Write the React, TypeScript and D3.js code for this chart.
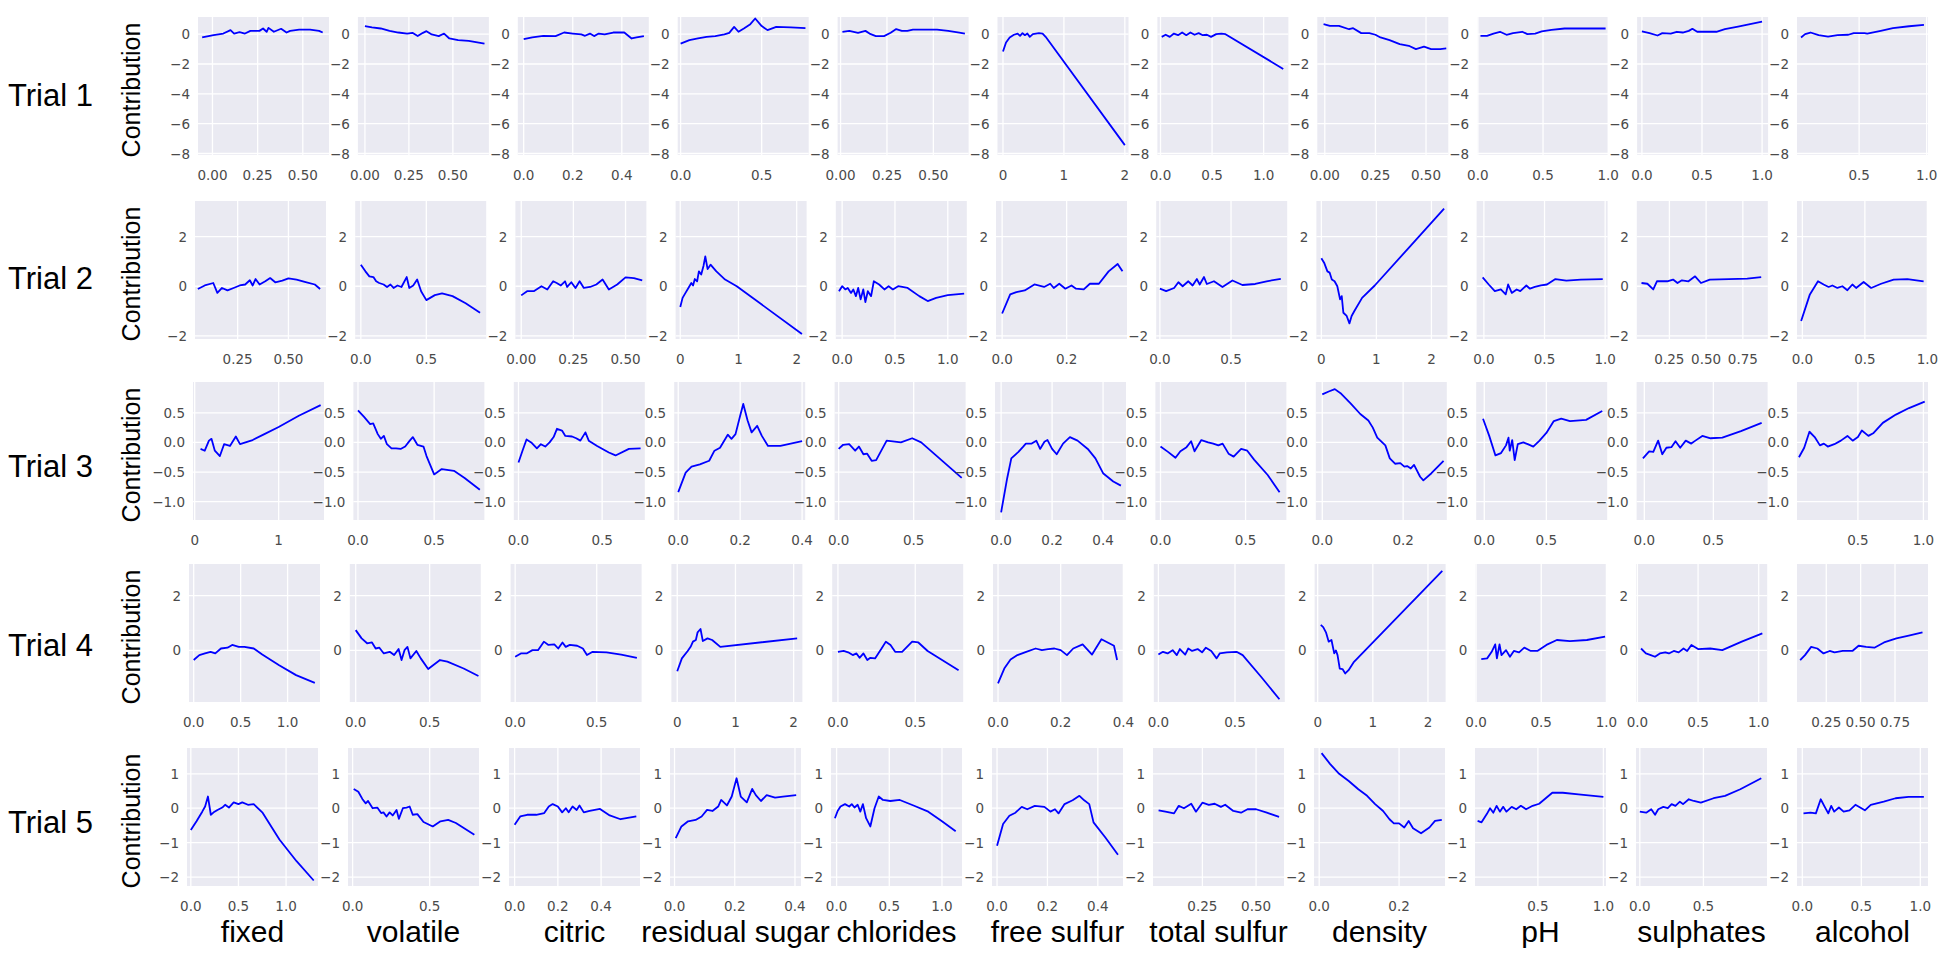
import * as d3 from 'd3'

type Pt = [number, number]

const FEATURES = ['fixed', 'volatile', 'citric', 'residual sugar', 'chlorides', 'free sulfur',
  'total sulfur', 'density', 'pH', 'sulphates', 'alcohol']
const TRIALS = ['Trial 1', 'Trial 2', 'Trial 3', 'Trial 4', 'Trial 5']

// y extents and ticks, shared along each trial row
const yDomains: [number, number][] = [[-8.1, 1.15], [-2.13, 3.44], [-1.31, 1.02], [-1.88, 3.15], [-2.26, 1.75]]
const yTicks: number[][] = [[0, -2, -4, -6, -8], [-2, 0, 2], [-1, -0.5, 0, 0.5], [0, 2], [-2, -1, 0, 1]]

// ---- Trial 1 ----
const trial1XDomain: [number, number][] = [[-0.08, 0.645], [-0.04, 0.705], [-0.024, 0.51], [-0.018, 0.79], [-0.016, 0.69],
  [-0.09, 2.06], [-0.03, 1.24], [-0.037, 0.61], [-0.005, 1.0], [-0.04, 1.05], [0.04, 1.01]]
const trial1XTicks: number[][] = [[0, 0.25, 0.5], [0, 0.25, 0.5], [0, 0.2, 0.4], [0, 0.5], [0, 0.25, 0.5],
  [0, 1, 2], [0, 0.5, 1], [0, 0.25, 0.5], [0, 0.5, 1], [0, 0.5, 1], [0.5, 1]]
const trial1: Pt[][] = [
  [[-0.057, -0.22], [0.006, -0.07], [0.06, 0.04], [0.1, 0.27], [0.12, 0.04], [0.15, 0.13], [0.18, 0.04], [0.21, 0.22], [0.26, 0.22], [0.28, 0.38], [0.3, 0.16], [0.31, 0.42], [0.34, 0.16], [0.38, 0.36], [0.41, 0.11], [0.43, 0.22], [0.48, 0.31], [0.54, 0.31], [0.59, 0.22], [0.61, 0.11]],
  [[0, 0.54], [0.04, 0.45], [0.09, 0.38], [0.14, 0.22], [0.19, 0.11], [0.24, 0.04], [0.27, 0.09], [0.3, -0.13], [0.33, 0.09], [0.35, 0.2], [0.38, -0.02], [0.42, -0.13], [0.45, 0.04], [0.48, -0.29], [0.53, -0.4], [0.59, -0.45], [0.68, -0.63]],
  [[0, -0.34], [0.035, -0.22], [0.08, -0.11], [0.13, -0.13], [0.165, 0.11], [0.2, 0.04], [0.235, -0.02], [0.25, -0.11], [0.27, 0.04], [0.287, -0.13], [0.306, 0.04], [0.33, -0.02], [0.365, 0.11], [0.41, 0.11], [0.44, -0.29], [0.46, -0.22], [0.49, -0.13]],
  [[0, -0.63], [0.054, -0.4], [0.107, -0.29], [0.16, -0.18], [0.214, -0.13], [0.27, -0.02], [0.3, 0.09], [0.33, 0.49], [0.357, 0.16], [0.39, 0.38], [0.43, 0.67], [0.46, 1.05], [0.5, 0.54], [0.536, 0.27], [0.59, 0.49], [0.68, 0.45], [0.77, 0.4]],
  [[0.01, 0.16], [0.047, 0.22], [0.094, 0.09], [0.134, 0.22], [0.156, 0.04], [0.19, -0.13], [0.234, -0.13], [0.27, 0.09], [0.3, 0.34], [0.33, 0.22], [0.36, 0.22], [0.39, 0.31], [0.45, 0.31], [0.52, 0.31], [0.58, 0.22], [0.64, 0.11], [0.67, 0.04]],
  [[0, -1.16], [0.05, -0.56], [0.11, -0.22], [0.18, -0.04], [0.24, 0.04], [0.28, -0.11], [0.32, 0.07], [0.36, -0.07], [0.4, 0.04], [0.44, -0.18], [0.49, 0], [0.54, 0.04], [0.59, 0.07], [0.65, 0.04], [0.7, -0.18], [2.0, -7.44]],
  [[0.012, -0.18], [0.05, -0.04], [0.09, -0.18], [0.13, 0.04], [0.17, -0.07], [0.21, 0.11], [0.25, -0.07], [0.29, 0.11], [0.33, -0.04], [0.37, 0.07], [0.41, -0.07], [0.45, -0.04], [0.49, -0.18], [0.54, 0], [0.59, 0.04], [0.63, 0], [1.19, -2.33]],
  [[-0.006, 0.67], [0.025, 0.56], [0.07, 0.56], [0.12, 0.33], [0.14, 0.4], [0.18, 0.07], [0.22, 0.07], [0.25, -0.04], [0.275, -0.22], [0.32, -0.4], [0.37, -0.67], [0.415, -0.78], [0.45, -1.0], [0.49, -0.84], [0.525, -1.0], [0.57, -1.0], [0.6, -0.96]],
  [[0.02, -0.11], [0.07, -0.11], [0.12, 0.04], [0.17, 0.16], [0.22, -0.04], [0.27, 0.07], [0.34, 0.16], [0.38, 0], [0.44, 0.04], [0.49, 0.18], [0.565, 0.29], [0.665, 0.38], [0.83, 0.38], [0.98, 0.38]],
  [[0, 0.18], [0.063, 0.07], [0.13, -0.09], [0.17, 0.07], [0.24, 0.04], [0.29, 0.16], [0.34, 0.11], [0.39, 0.22], [0.42, 0.36], [0.46, 0.16], [0.54, 0.16], [0.62, 0.16], [0.69, 0.33], [0.8, 0.51], [0.9, 0.67], [1.0, 0.84]],
  [[0.07, -0.22], [0.1, 0], [0.14, 0.11], [0.2, -0.07], [0.27, -0.16], [0.34, -0.07], [0.42, -0.04], [0.46, 0.07], [0.54, 0.07], [0.56, 0.04], [0.66, 0.22], [0.75, 0.4], [0.87, 0.53], [0.98, 0.62]],
]

// ---- Trial 2 ----
const trial2XDomain: [number, number][] = [[0.04, 0.685], [-0.043, 0.957], [-0.028, 0.6], [-0.08, 2.17], [-0.06, 1.18],
  [-0.019, 0.387], [-0.026, 0.895], [-0.09, 2.29], [-0.06, 1.02], [0.028, 0.92], [-0.043, 1.005]]
const trial2XTicks: number[][] = [[0.25, 0.5], [0, 0.5], [0, 0.25, 0.5], [0, 1, 2], [0, 0.5, 1],
  [0, 0.2], [0, 0.5], [0, 1, 2], [0, 0.5, 1], [0.25, 0.5, 0.75], [0, 0.5, 1]]
const trial2: Pt[][] = [
  [[0.054, -0.11], [0.088, 0.03], [0.13, 0.13], [0.15, -0.27], [0.173, -0.07], [0.2, -0.17], [0.23, -0.07], [0.26, 0.03], [0.287, 0.07], [0.31, 0.24], [0.324, 0.03], [0.338, 0.29], [0.358, 0.07], [0.386, 0.2], [0.41, 0.33], [0.435, 0.16], [0.47, 0.23], [0.5, 0.32], [0.54, 0.27], [0.585, 0.17], [0.63, 0.07], [0.656, -0.11]],
  [[0, 0.87], [0.035, 0.6], [0.065, 0.4], [0.096, 0.37], [0.117, 0.2], [0.14, 0.13], [0.174, 0.07], [0.2, -0.03], [0.226, 0.07], [0.25, -0.07], [0.28, 0.03], [0.31, -0.03], [0.35, 0.37], [0.37, -0.07], [0.4, 0.03], [0.43, 0.27], [0.46, -0.2], [0.5, -0.56], [0.565, -0.36], [0.62, -0.29], [0.7, -0.4], [0.8, -0.69], [0.91, -1.07]],
  [[0, -0.37], [0.028, -0.2], [0.06, -0.2], [0.097, 0], [0.125, -0.13], [0.153, 0.2], [0.17, 0.13], [0.19, 0.03], [0.21, 0.2], [0.22, -0.03], [0.24, 0.16], [0.26, -0.07], [0.28, 0.2], [0.3, -0.07], [0.33, -0.03], [0.36, 0.07], [0.39, 0.27], [0.42, -0.13], [0.46, 0.07], [0.5, 0.36], [0.54, 0.33], [0.58, 0.24]],
  [[0, -0.84], [0.04, -0.47], [0.09, -0.27], [0.14, -0.07], [0.19, 0.13], [0.22, 0.03], [0.25, 0.29], [0.29, 0.2], [0.32, 0.6], [0.36, 0.47], [0.4, 0.83], [0.43, 1.2], [0.47, 0.69], [0.52, 0.87], [0.62, 0.6], [0.77, 0.27], [0.97, 0], [2.09, -1.93]],
  [[-0.03, -0.2], [0, 0], [0.03, -0.13], [0.053, -0.07], [0.084, -0.27], [0.106, -0.13], [0.13, -0.4], [0.152, -0.07], [0.175, -0.53], [0.2, -0.13], [0.22, -0.64], [0.243, -0.2], [0.274, -0.4], [0.3, 0.2], [0.35, 0.07], [0.4, -0.13], [0.44, 0], [0.48, -0.13], [0.53, 0], [0.62, -0.07], [0.73, -0.4], [0.81, -0.6], [0.89, -0.47], [1.0, -0.36], [1.155, -0.3]],
  [[0, -1.1], [0.025, -0.33], [0.044, -0.24], [0.07, -0.17], [0.1, 0.07], [0.13, -0.03], [0.149, 0.1], [0.16, -0.07], [0.177, 0.1], [0.196, -0.1], [0.215, 0.03], [0.229, -0.1], [0.253, -0.13], [0.272, 0.1], [0.3, 0.1], [0.33, 0.6], [0.358, 0.9], [0.373, 0.6]],
  [[0, -0.1], [0.044, -0.2], [0.1, -0.07], [0.13, 0.16], [0.16, 0], [0.2, 0.2], [0.23, 0.03], [0.26, 0.29], [0.28, 0.07], [0.31, 0.37], [0.33, 0.09], [0.38, 0.2], [0.44, -0.03], [0.51, 0.23], [0.58, 0.05], [0.67, 0.09], [0.75, 0.2], [0.85, 0.3]],
  [[0, 1.13], [0.05, 0.95], [0.11, 0.6], [0.15, 0.55], [0.19, 0.27], [0.24, 0.2], [0.29, 0], [0.34, -0.53], [0.37, -0.4], [0.4, -1.07], [0.46, -1.2], [0.51, -1.5], [0.55, -1.2], [0.6, -1.0], [0.74, -0.47], [0.97, 0.03], [1.6, 1.58], [2.23, 3.13]],
  [[-0.01, 0.36], [0.04, 0.07], [0.09, -0.2], [0.14, -0.13], [0.18, -0.33], [0.2, 0.07], [0.23, -0.27], [0.27, -0.13], [0.3, -0.2], [0.35, 0.03], [0.38, -0.1], [0.42, -0.03], [0.47, 0.03], [0.52, 0.07], [0.59, 0.29], [0.68, 0.23], [0.8, 0.27], [0.98, 0.29]],
  [[0.06, 0.13], [0.1, 0.1], [0.14, -0.13], [0.165, 0.2], [0.235, 0.2], [0.275, 0.27], [0.305, 0.13], [0.335, 0.24], [0.38, 0.2], [0.425, 0.4], [0.465, 0.13], [0.525, 0.27], [0.655, 0.29], [0.78, 0.31], [0.875, 0.37]],
  [[-0.01, -1.4], [0.06, -0.33], [0.125, 0.2], [0.17, 0.07], [0.21, -0.03], [0.24, 0.03], [0.28, -0.07], [0.32, 0], [0.36, -0.16], [0.4, 0.07], [0.43, -0.07], [0.49, 0.17], [0.55, -0.07], [0.63, 0.1], [0.73, 0.27], [0.84, 0.29], [0.97, 0.2]],
]

// ---- Trial 3 ----
const trial3XDomain: [number, number][] = [[-0.02, 1.54], [-0.03, 0.83], [-0.028, 0.755], [-0.013, 0.41], [-0.027, 0.846],
  [-0.024, 0.49], [-0.03, 0.74], [-0.016, 0.308], [-0.065, 0.99], [-0.056, 0.893], [0.035, 1.035]]
const trial3XTicks: number[][] = [[0, 1], [0, 0.5], [0, 0.5], [0, 0.2, 0.4], [0, 0.5],
  [0, 0.2, 0.4], [0, 0.5], [0, 0.2], [0, 0.5], [0, 0.5], [0.5, 1]]
const trial3: Pt[][] = [
  [[0.07, -0.11], [0.12, -0.14], [0.17, 0.03], [0.2, 0.06], [0.24, -0.14], [0.3, -0.23], [0.35, -0.03], [0.42, -0.06], [0.49, 0.1], [0.54, -0.03], [0.69, 0.04], [0.83, 0.14], [1.0, 0.26], [1.24, 0.45], [1.5, 0.63]],
  [[0, 0.54], [0.04, 0.43], [0.08, 0.31], [0.1, 0.32], [0.13, 0.14], [0.15, 0.06], [0.17, 0.11], [0.19, -0.03], [0.22, -0.1], [0.25, -0.1], [0.28, -0.11], [0.31, -0.07], [0.34, 0.03], [0.36, 0.09], [0.39, -0.04], [0.43, -0.07], [0.45, -0.23], [0.5, -0.54], [0.55, -0.45], [0.63, -0.48], [0.7, -0.6], [0.8, -0.8]],
  [[0, -0.34], [0.024, -0.14], [0.048, 0.05], [0.076, 0], [0.11, -0.1], [0.134, -0.03], [0.16, -0.07], [0.186, 0], [0.21, 0.09], [0.23, 0.23], [0.26, 0.2], [0.28, 0.11], [0.32, 0.1], [0.345, 0.07], [0.37, 0.03], [0.4, 0.17], [0.42, 0.03], [0.47, -0.06], [0.54, -0.17], [0.58, -0.22], [0.66, -0.11], [0.73, -0.1]],
  [[0, -0.84], [0.024, -0.51], [0.043, -0.41], [0.07, -0.37], [0.1, -0.31], [0.117, -0.14], [0.135, -0.09], [0.16, 0.13], [0.172, 0.06], [0.185, 0.14], [0.2, 0.45], [0.21, 0.65], [0.224, 0.37], [0.237, 0.17], [0.255, 0.28], [0.27, 0.11], [0.29, -0.06], [0.33, -0.06], [0.4, 0.02]],
  [[0, -0.11], [0.03, -0.04], [0.07, -0.03], [0.11, -0.14], [0.135, -0.07], [0.165, -0.2], [0.19, -0.19], [0.22, -0.31], [0.25, -0.3], [0.32, 0.03], [0.415, 0], [0.49, 0.07], [0.55, 0], [0.82, -0.6]],
  [[0, -1.18], [0.024, -0.6], [0.04, -0.27], [0.068, -0.16], [0.085, -0.08], [0.097, -0.02], [0.12, -0.02], [0.138, 0.03], [0.153, -0.11], [0.17, 0.01], [0.182, 0.04], [0.2, -0.11], [0.218, -0.2], [0.243, -0.02], [0.27, 0.09], [0.3, 0.03], [0.34, -0.11], [0.37, -0.27], [0.4, -0.52], [0.44, -0.66], [0.47, -0.73]],
  [[0, -0.07], [0.044, -0.16], [0.088, -0.26], [0.117, -0.15], [0.153, -0.08], [0.18, 0.02], [0.2, -0.15], [0.24, 0.04], [0.28, 0], [0.31, -0.02], [0.34, -0.05], [0.365, -0.02], [0.4, -0.19], [0.43, -0.24], [0.474, -0.11], [0.51, -0.14], [0.55, -0.29], [0.63, -0.55], [0.7, -0.84]],
  [[0, 0.81], [0.016, 0.86], [0.031, 0.9], [0.047, 0.82], [0.07, 0.66], [0.094, 0.48], [0.114, 0.37], [0.125, 0.25], [0.136, 0.08], [0.156, -0.05], [0.167, -0.27], [0.18, -0.36], [0.193, -0.35], [0.203, -0.41], [0.21, -0.4], [0.219, -0.44], [0.227, -0.38], [0.242, -0.58], [0.25, -0.64], [0.27, -0.52], [0.3, -0.31]],
  [[-0.01, 0.4], [0.04, 0.11], [0.09, -0.22], [0.135, -0.18], [0.175, -0.05], [0.195, 0.08], [0.205, -0.14], [0.225, 0.04], [0.245, -0.3], [0.27, -0.03], [0.315, 0], [0.35, -0.03], [0.395, -0.07], [0.445, 0.03], [0.5, 0.16], [0.56, 0.36], [0.62, 0.4], [0.69, 0.36], [0.82, 0.38], [0.95, 0.53]],
  [[-0.01, -0.27], [0.035, -0.15], [0.065, -0.16], [0.1, 0.03], [0.13, -0.2], [0.16, -0.09], [0.196, -0.08], [0.226, 0.02], [0.26, -0.09], [0.3, 0.03], [0.34, -0.02], [0.37, 0.03], [0.42, 0.11], [0.48, 0.07], [0.565, 0.08], [0.7, 0.19], [0.85, 0.33]],
  [[0.05, -0.25], [0.09, -0.09], [0.13, 0.18], [0.17, 0.09], [0.21, -0.05], [0.24, -0.02], [0.27, -0.07], [0.32, -0.03], [0.37, 0.03], [0.42, 0.11], [0.46, 0.03], [0.5, 0.09], [0.53, 0.2], [0.58, 0.11], [0.62, 0.16], [0.69, 0.33], [0.79, 0.47], [0.89, 0.58], [1.01, 0.69]],
]

// ---- Trial 4 ----
const trial4XDomain: [number, number][] = [[-0.05, 1.345], [-0.04, 0.846], [-0.028, 0.775], [-0.1, 2.15], [-0.037, 0.81],
  [-0.016, 0.402], [-0.03, 0.825], [-0.056, 2.32], [-0.005, 1.0], [-0.01, 1.07], [0.037, 0.99]]
const trial4XTicks: number[][] = [[0, 0.5, 1], [0, 0.5], [0, 0.5], [0, 1, 2], [0, 0.5],
  [0, 0.2, 0.4], [0, 0.5], [0, 1, 2], [0, 0.5, 1], [0, 0.5, 1], [0.25, 0.5, 0.75]]
const trial4: Pt[][] = [
  [[0, -0.35], [0.06, -0.17], [0.12, -0.11], [0.18, -0.05], [0.23, -0.11], [0.29, 0.07], [0.36, 0.1], [0.41, 0.2], [0.48, 0.13], [0.54, 0.13], [0.64, 0.07], [0.73, -0.15], [0.91, -0.54], [1.09, -0.9], [1.29, -1.18]],
  [[0, 0.74], [0.04, 0.44], [0.077, 0.26], [0.11, 0.29], [0.135, 0.07], [0.16, 0.1], [0.19, -0.11], [0.23, -0.05], [0.26, -0.17], [0.29, 0.05], [0.31, -0.35], [0.33, 0.01], [0.35, 0.13], [0.37, -0.29], [0.41, -0.02], [0.44, -0.29], [0.49, -0.68], [0.57, -0.35], [0.62, -0.41], [0.73, -0.66], [0.83, -0.93]],
  [[0, -0.23], [0.035, -0.11], [0.07, -0.11], [0.106, 0.01], [0.14, 0.01], [0.176, 0.32], [0.204, 0.2], [0.24, 0.22], [0.264, 0.07], [0.29, 0.29], [0.31, 0.13], [0.335, 0.2], [0.38, 0.17], [0.415, 0.07], [0.44, -0.17], [0.475, -0.05], [0.56, -0.07], [0.65, -0.15], [0.746, -0.27]],
  [[0, -0.76], [0.08, -0.29], [0.18, -0.02], [0.23, 0.13], [0.27, 0.32], [0.32, 0.38], [0.35, 0.66], [0.4, 0.78], [0.44, 0.34], [0.52, 0.44], [0.6, 0.38], [0.74, 0.13], [2.06, 0.44]],
  [[0, -0.05], [0.037, -0.02], [0.066, -0.07], [0.096, -0.17], [0.12, -0.11], [0.14, -0.27], [0.165, -0.11], [0.19, -0.35], [0.21, -0.27], [0.24, -0.29], [0.28, 0.05], [0.31, 0.32], [0.34, 0.2], [0.37, -0.05], [0.415, -0.05], [0.48, 0.32], [0.52, 0.29], [0.58, -0.02], [0.78, -0.72]],
  [[0, -1.2], [0.02, -0.66], [0.04, -0.33], [0.062, -0.17], [0.09, -0.05], [0.12, 0.07], [0.14, 0.01], [0.16, 0.05], [0.18, 0.07], [0.2, 0.01], [0.22, -0.17], [0.24, 0.07], [0.27, 0.22], [0.3, -0.15], [0.33, 0.41], [0.37, 0.17], [0.38, -0.35]],
  [[0, -0.15], [0.03, -0.05], [0.06, -0.11], [0.093, 0.01], [0.12, -0.17], [0.14, 0.05], [0.175, -0.15], [0.195, 0.07], [0.22, -0.02], [0.256, 0.05], [0.285, -0.07], [0.31, 0.1], [0.345, -0.02], [0.38, -0.29], [0.4, -0.11], [0.447, -0.07], [0.51, -0.05], [0.55, -0.17], [0.67, -0.96], [0.79, -1.78]],
  [[0.056, 0.93], [0.1, 0.85], [0.15, 0.66], [0.2, 0.32], [0.25, 0.38], [0.3, -0.11], [0.33, 0], [0.36, -0.17], [0.4, -0.66], [0.45, -0.68], [0.5, -0.84], [0.56, -0.72], [0.65, -0.44], [2.26, 2.9]],
  [[0.04, -0.32], [0.085, -0.29], [0.12, -0.05], [0.147, 0.22], [0.16, -0.29], [0.18, 0.22], [0.195, -0.17], [0.23, 0.01], [0.26, -0.23], [0.29, -0.02], [0.33, -0.07], [0.37, 0.1], [0.42, -0.02], [0.47, -0.02], [0.54, 0.2], [0.62, 0.38], [0.72, 0.34], [0.85, 0.38], [0.99, 0.5]],
  [[0.03, 0.07], [0.07, -0.11], [0.11, -0.17], [0.145, -0.23], [0.185, -0.11], [0.23, -0.07], [0.26, -0.11], [0.3, -0.02], [0.34, -0.07], [0.38, 0.07], [0.41, -0.02], [0.445, 0.2], [0.5, 0.05], [0.6, 0.07], [0.7, 0.01], [0.86, 0.32], [1.03, 0.62]],
  [[0.06, -0.35], [0.095, -0.17], [0.14, 0.13], [0.185, 0.07], [0.23, -0.11], [0.275, -0.02], [0.31, -0.07], [0.37, -0.02], [0.44, -0.02], [0.485, 0.17], [0.54, 0.13], [0.6, 0.1], [0.67, 0.29], [0.76, 0.44], [0.85, 0.54], [0.95, 0.66]],
]

// ---- Trial 5 ----
const trial5XDomain: [number, number][] = [[-0.04, 1.335], [-0.03, 0.82], [-0.026, 0.58], [-0.015, 0.42], [-0.053, 1.19],
  [-0.02, 0.5], [0.02, 0.63], [-0.013, 0.315], [0.02, 1.02], [-0.03, 1.0], [-0.045, 1.065]]
const trial5XTicks: number[][] = [[0, 0.5, 1], [0, 0.5], [0, 0.2, 0.4], [0, 0.2, 0.4], [0, 0.5, 1],
  [0, 0.2, 0.4], [0.25, 0.5], [0, 0.2], [0.5, 1], [0, 0.5], [0, 0.5, 1]]
const trial5: Pt[][] = [
  [[0, -0.63], [0.06, -0.38], [0.12, -0.1], [0.15, 0.05], [0.18, 0.34], [0.21, -0.19], [0.24, -0.12], [0.28, -0.05], [0.33, 0.02], [0.36, 0.1], [0.4, 0.02], [0.45, 0.17], [0.5, 0.12], [0.54, 0.17], [0.6, 0.1], [0.66, 0.12], [0.75, -0.12], [0.93, -0.91], [1.11, -1.54], [1.29, -2.1]],
  [[0.007, 0.56], [0.037, 0.48], [0.063, 0.27], [0.085, 0.14], [0.1, 0.21], [0.13, 0], [0.16, 0.02], [0.185, -0.14], [0.2, -0.12], [0.22, -0.24], [0.24, -0.12], [0.26, -0.21], [0.285, -0.05], [0.3, -0.31], [0.326, 0], [0.35, 0.02], [0.37, 0.05], [0.39, -0.19], [0.42, -0.17], [0.46, -0.4], [0.52, -0.53], [0.57, -0.38], [0.62, -0.34], [0.67, -0.43], [0.79, -0.77]],
  [[0, -0.48], [0.026, -0.24], [0.058, -0.19], [0.1, -0.19], [0.137, -0.14], [0.158, 0.05], [0.176, 0.12], [0.2, 0.05], [0.22, -0.12], [0.237, 0], [0.25, -0.12], [0.268, 0.05], [0.287, -0.05], [0.3, 0.08], [0.32, -0.12], [0.347, -0.08], [0.395, -0.02], [0.44, -0.21], [0.49, -0.32], [0.563, -0.24]],
  [[0.004, -0.87], [0.023, -0.53], [0.045, -0.38], [0.07, -0.34], [0.09, -0.24], [0.108, -0.05], [0.126, -0.08], [0.145, 0.05], [0.155, 0.24], [0.174, 0.08], [0.19, 0.34], [0.206, 0.87], [0.22, 0.34], [0.24, 0.17], [0.258, 0.56], [0.27, 0.38], [0.287, 0.21], [0.306, 0.38], [0.334, 0.31], [0.36, 0.34], [0.404, 0.38]],
  [[-0.016, -0.29], [0.01, -0.08], [0.037, 0.05], [0.08, 0.12], [0.12, 0.05], [0.144, 0.12], [0.17, 0.02], [0.2, 0.1], [0.225, -0.1], [0.25, 0.12], [0.28, -0.29], [0.32, -0.53], [0.36, 0], [0.4, 0.34], [0.44, 0.24], [0.51, 0.21], [0.6, 0.24], [0.73, 0.08], [0.87, -0.1], [1.0, -0.38], [1.13, -0.67]],
  [[0, -1.09], [0.024, -0.46], [0.049, -0.22], [0.073, -0.13], [0.098, 0.04], [0.12, -0.03], [0.15, 0.07], [0.188, 0.04], [0.212, -0.1], [0.23, -0.03], [0.244, -0.15], [0.268, 0.12], [0.3, 0.23], [0.327, 0.36], [0.346, 0.23], [0.366, 0.12], [0.383, -0.41], [0.43, -0.85], [0.48, -1.35]],
  [[0.046, -0.06], [0.078, -0.1], [0.118, -0.15], [0.14, 0.07], [0.164, 0], [0.198, 0.13], [0.22, -0.1], [0.25, 0.16], [0.28, 0.1], [0.307, 0.13], [0.336, 0.04], [0.356, 0.1], [0.394, -0.08], [0.43, -0.13], [0.46, -0.03], [0.5, -0.03], [0.55, -0.13], [0.607, -0.25]],
  [[0.006, 1.6], [0.027, 1.29], [0.05, 1.0], [0.074, 0.79], [0.098, 0.55], [0.12, 0.36], [0.14, 0.12], [0.16, -0.08], [0.176, -0.32], [0.187, -0.44], [0.2, -0.44], [0.213, -0.56], [0.224, -0.37], [0.235, -0.58], [0.255, -0.73], [0.276, -0.56], [0.29, -0.37], [0.307, -0.34]],
  [[0.04, -0.37], [0.07, -0.41], [0.11, -0.17], [0.135, 0], [0.16, -0.13], [0.185, 0.07], [0.21, -0.1], [0.235, 0.04], [0.26, -0.1], [0.3, 0.04], [0.335, -0.03], [0.37, 0.07], [0.41, -0.03], [0.46, 0.07], [0.51, 0.13], [0.56, 0.29], [0.61, 0.45], [0.69, 0.45], [0.81, 0.4], [1.0, 0.33]],
  [[0, -0.1], [0.05, -0.13], [0.09, -0.03], [0.12, -0.19], [0.145, -0.03], [0.185, 0.04], [0.22, 0], [0.25, 0.12], [0.28, 0.07], [0.315, 0.19], [0.34, 0.12], [0.385, 0.26], [0.425, 0.21], [0.48, 0.16], [0.58, 0.29], [0.67, 0.36], [0.79, 0.55], [0.955, 0.87]],
  [[0.01, -0.15], [0.07, -0.13], [0.115, -0.15], [0.156, 0.26], [0.19, 0.04], [0.22, -0.15], [0.245, 0.07], [0.27, -0.1], [0.31, 0.02], [0.35, -0.1], [0.4, -0.06], [0.45, 0.1], [0.49, 0.02], [0.53, -0.06], [0.58, 0.1], [0.69, 0.19], [0.79, 0.29], [0.9, 0.33], [1.03, 0.33]],
]

const CURVES = [trial1, trial2, trial3, trial4, trial5]
const X_DOMAINS = [trial1XDomain, trial2XDomain, trial3XDomain, trial4XDomain, trial5XDomain]
const X_TICKS = [trial1XTicks, trial2XTicks, trial3XTicks, trial4XTicks, trial5XTicks]

// layout (px)
const W = 1958
const H = 954
const ROW_TOP = [17, 201, 382, 564, 748]
const ROW_H = 138
const ROW_LEFT = [198, 195, 193, 189, 187]
const LAST_LEFT = 1797
const PANEL_W = 131
const TRIAL_Y = [95, 278, 466, 645, 822]

const TICK_FONT = "'DejaVu Sans', sans-serif"
const LABEL_FONT = "'Liberation Sans', Arial, sans-serif"

function decimals(ticks: number[]) {
  if (ticks.some(t => Math.abs(t * 10 - Math.round(t * 10)) > 1e-6)) return 2
  if (ticks.some(t => t % 1 !== 0)) return 1
  if (ticks.length > 1 && Math.abs(ticks[1] - ticks[0]) < 1) return 1
  return 0
}

function fmt(v: number, d: number) {
  const s = Math.abs(v).toFixed(d)
  return v < 0 ? '\u2212' + s : s
}

function Panel({ r, c }: { r: number; c: number }) {
  const step = (LAST_LEFT - ROW_LEFT[r]) / 10
  const x0 = ROW_LEFT[r] + c * step
  const top = ROW_TOP[r]
  const bottom = top + ROW_H
  const x = d3.scaleLinear().domain(X_DOMAINS[r][c]).range([x0, x0 + PANEL_W])
  const y = d3.scaleLinear().domain(yDomains[r]).range([bottom, top])
  const line = d3.line<Pt>().x(d => x(d[0])).y(d => y(d[1]))
  const xt = X_TICKS[r][c]
  const xd = decimals(xt)
  const yd = decimals(yTicks[r])
  const clipId = `clip-${r}-${c}`
  return (
    <g>
      <defs>
        <clipPath id={clipId}>
          <rect x={x0} y={top} width={PANEL_W} height={ROW_H} />
        </clipPath>
      </defs>
      <rect x={x0} y={top} width={PANEL_W} height={ROW_H} fill="#eaeaf2" />
      {yTicks[r].map(t => (
        <line key={'gy' + t} x1={x0} x2={x0 + PANEL_W} y1={y(t)} y2={y(t)} stroke="#fff" strokeWidth={1.3} />
      ))}
      {xt.map(t => (
        <line key={'gx' + t} x1={x(t)} x2={x(t)} y1={top} y2={bottom} stroke="#fff" strokeWidth={1.3} />
      ))}
      <path d={line(CURVES[r][c]) ?? ''} fill="none" stroke="#0000ff" strokeWidth={1.8}
        strokeLinejoin="round" clipPath={`url(#${clipId})`} />
      {yTicks[r].map(t => (
        <text key={'ly' + t} x={x0 - 8} y={y(t)} textAnchor="end" dominantBaseline="central"
          style={{ fontSize: 13.5, fill: '#4a4a4a', fontFamily: TICK_FONT }}>
          {fmt(t, yd)}
        </text>
      ))}
      {xt.map(t => (
        <text key={'lx' + t} x={x(t)} y={bottom + 20} textAnchor="middle" dominantBaseline="central"
          style={{ fontSize: 13.5, fill: '#4a4a4a', fontFamily: TICK_FONT }}>
          {fmt(t, xd)}
        </text>
      ))}
    </g>
  )
}

export default function App() {
  const lastRow = ROW_TOP.length - 1
  const step5 = (LAST_LEFT - ROW_LEFT[lastRow]) / 10
  return (
    <div style={{ position: 'absolute', left: 0, top: 0, background: '#fff' }}>
      <svg width={W} height={H} style={{ display: 'block' }}>
        <rect width={W} height={H} fill="#fff" />
        {TRIALS.map((t, r) => (
          <g key={t}>
            <text x={8} y={TRIAL_Y[r]} dominantBaseline="central"
              style={{ fontSize: 31, fill: '#000', fontFamily: LABEL_FONT }}>
              {t}
            </text>
            <text transform={`translate(131,${ROW_TOP[r] + ROW_H / 2 + 4}) rotate(-90)`}
              textAnchor="middle" dominantBaseline="central"
              style={{ fontSize: 25, fill: '#000', fontFamily: LABEL_FONT }}>
              Contribution
            </text>
            {FEATURES.map((f, c) => <Panel key={f} r={r} c={c} />)}
          </g>
        ))}
        {FEATURES.map((f, c) => (
          <text key={f} x={ROW_LEFT[lastRow] + c * step5 + PANEL_W / 2} y={942} textAnchor="middle"
            style={{ fontSize: 30, fill: '#000', fontFamily: LABEL_FONT }}>
            {f}
          </text>
        ))}
      </svg>
    </div>
  )
}
